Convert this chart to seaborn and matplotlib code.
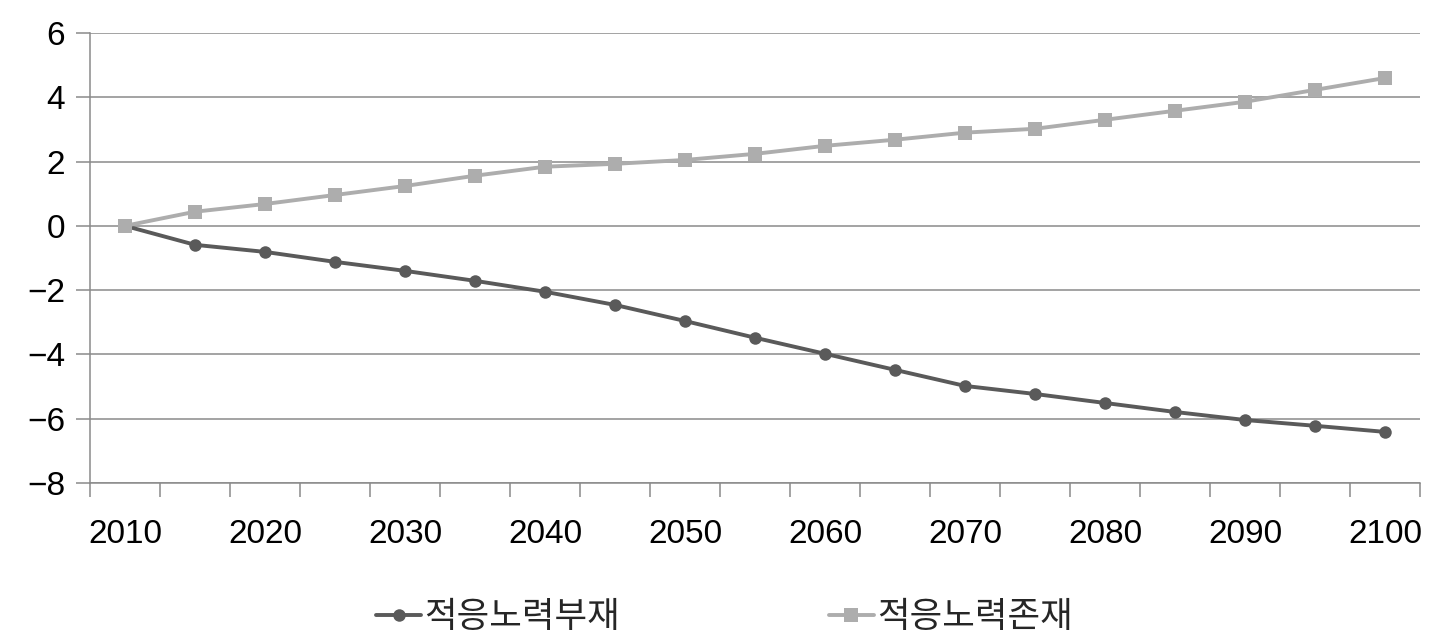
import numpy as np
import pandas as pd
import matplotlib
matplotlib.use("Agg")
import matplotlib.pyplot as plt
import seaborn as sns

years = [2010, 2015, 2020, 2025, 2030, 2035, 2040, 2045, 2050, 2055,
         2060, 2065, 2070, 2075, 2080, 2085, 2090, 2095, 2100]
no_adapt = [0.0, -0.59, -0.81, -1.12, -1.40, -1.71, -2.05, -2.46, -2.96, -3.48,
            -3.98, -4.48, -4.98, -5.23, -5.51, -5.79, -6.04, -6.22, -6.41]
with_adapt = [0.0, 0.44, 0.68, 0.96, 1.24, 1.56, 1.84, 1.93, 2.05, 2.24,
              2.49, 2.68, 2.90, 3.02, 3.30, 3.58, 3.86, 4.23, 4.60]
series_names = ["적응노력부재", "적응노력존재"]
y_ticks = [-8, -6, -4, -2, 0, 2, 4, 6]

sns.set_theme(style="white")
plt.rcParams['font.family'] = ['Liberation Sans', 'Noto Sans CJK KR', 'DejaVu Sans']
plt.rcParams['axes.unicode_minus'] = True

W, H = 1444, 635
fig = plt.figure(figsize=(W / 100, H / 100), dpi=100)
ax = fig.add_axes([90 / W, 1 - 483 / H, (1420 - 90) / W, (483 - 33) / H])

pos = np.arange(len(years))
df = pd.DataFrame({"pos": np.concatenate([pos, pos]),
                   "value": no_adapt + with_adapt,
                   "series": [series_names[0]] * len(years) + [series_names[1]] * len(years)})

colors = {series_names[0]: "#5a5a5a", series_names[1]: "#adadad"}
markers = {series_names[0]: "o", series_names[1]: "s"}
for name in series_names:
    sub = df[df["series"] == name]
    sns.lineplot(data=sub, x="pos", y="value", ax=ax, color=colors[name],
                 linewidth=2.8, marker=markers[name],
                 markersize=9 if name == series_names[0] else 9.5,
                 markeredgewidth=0, label=name, zorder=3)

ax.set_xlim(-0.5, len(years) - 0.5)
ax.set_ylim(-8, 6)
ax.set_yticks(y_ticks)
ax.set_yticklabels([f"{v}".replace("-", "\u2212") for v in y_ticks])
ax.yaxis.grid(True, color="#8a8a8a", linewidth=1.1)
ax.set_axisbelow(True)

# category boundaries as major ticks, labels at every other category
ax.set_xticks(np.arange(-0.5, len(years), 1.0))
ax.set_xticklabels([])
ax.set_xticks(pos[::2], minor=True)
ax.set_xticklabels([str(y) for y in years[::2]], minor=True)
ax.tick_params(axis="x", which="major", direction="out", length=10, width=1.1,
               color="#8a8a8a", bottom=True)
ax.tick_params(axis="x", which="minor", length=0, pad=26, labelsize=24, labelcolor="black")
ax.tick_params(axis="y", which="major", direction="out", length=10, width=1.1,
               color="#8a8a8a", left=True, labelsize=24, labelcolor="black", pad=8)

for s in ["top", "right"]:
    ax.spines[s].set_visible(False)
for s in ["left", "bottom"]:
    ax.spines[s].set_color("#8a8a8a")
    ax.spines[s].set_linewidth(1.1)

ax.set_xlabel("")
ax.set_ylabel("")

leg = ax.legend(loc="center", bbox_to_anchor=(0.477, -0.3), ncol=2, frameon=False,
                fontsize=25.5, handlelength=1.27, handletextpad=0.08, columnspacing=5.9)

fig.savefig("out.png", dpi=100)
